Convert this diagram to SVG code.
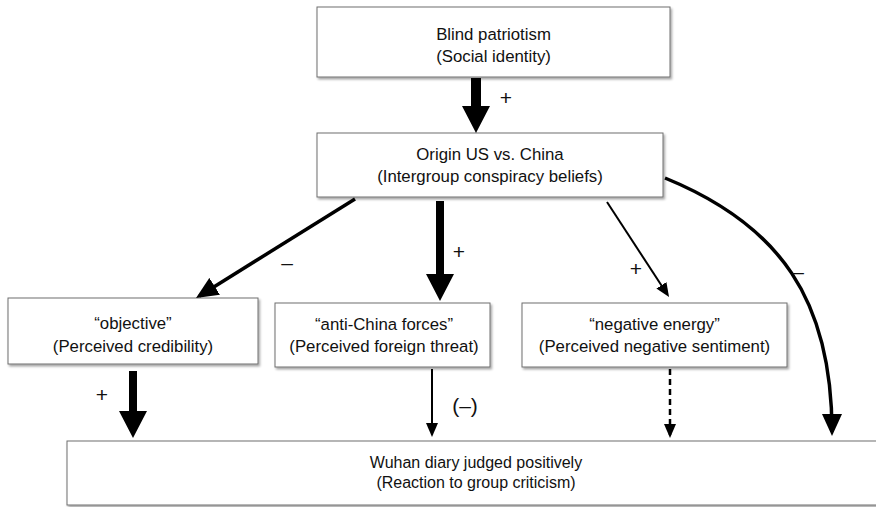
<svg xmlns="http://www.w3.org/2000/svg" width="876" height="507" viewBox="0 0 876 507">
<style>
  .box { fill: #ffffff; stroke: #6e6e6e; stroke-width: 1; filter: url(#shadow); }
  .t { font-family: "Liberation Sans", Arial, sans-serif; font-size: 16.8px; fill: #111; text-anchor: middle; }
  .tb { font-family: "Liberation Sans", Arial, sans-serif; font-size: 16px; fill: #111; text-anchor: middle; }
  .sign { font-family: "Liberation Sans", Arial, sans-serif; font-size: 21px; fill: #111; text-anchor: middle; }
  .ln { fill: none; stroke: #000; }
  .block { fill: #000; }
</style>
<defs>
  <filter id="shadow" x="-5%" y="-10%" width="115%" height="130%">
    <feDropShadow dx="1.5" dy="2" stdDeviation="1.2" flood-color="#000" flood-opacity="0.35"/>
  </filter>
  <marker id="headL" markerUnits="userSpaceOnUse" markerWidth="22" markerHeight="20" refX="18" refY="10" orient="auto">
    <path d="M0,0 L22,10 L0,20 z" fill="#000"/>
  </marker>
  <marker id="headS" markerUnits="userSpaceOnUse" markerWidth="14" markerHeight="12" refX="11" refY="6" orient="auto">
    <path d="M0,0 L14,6 L0,12 z" fill="#000"/>
  </marker>
</defs>

<g id="node-blind">
  <rect class="box" x="317" y="7" width="353" height="70"/>
  <text class="t" x="493.5" y="39.5">Blind patriotism</text>
  <text class="t" x="493.5" y="61.5">(Social identity)</text>
</g>

<g id="node-origin">
  <rect class="box" x="317" y="133" width="346" height="64"/>
  <text class="t" x="490" y="160">Origin US vs. China</text>
  <text class="t" x="490" y="182">(Intergroup conspiracy beliefs)</text>
</g>

<g id="node-objective">
  <rect class="box" x="8" y="298" width="250" height="66"/>
  <text class="t" x="133" y="329">“objective”</text>
  <text class="t" x="133" y="352">(Perceived credibility)</text>
</g>

<g id="node-antichina">
  <rect class="box" x="275" y="303" width="215" height="64"/>
  <text class="t" x="384" y="330">“anti-China forces”</text>
  <text class="t" x="384" y="352">(Perceived foreign threat)</text>
</g>

<g id="node-negative">
  <rect class="box" x="522" y="303" width="265" height="64"/>
  <text class="t" x="654.5" y="330">“negative energy”</text>
  <text class="t" x="654.5" y="352">(Perceived negative sentiment)</text>
</g>

<g id="node-wuhan">
  <rect class="box" x="67" y="441" width="830" height="64"/>
  <text class="tb" x="476" y="468">Wuhan diary judged positively</text>
  <text class="tb" x="476" y="488">(Reaction to group criticism)</text>
</g>

<g id="connectors">
  <!-- Blind patriotism -> Origin (thick) -->
  <polygon class="block" points="471,78 481,78 481,106 490,106 476,133 462,106 471,106"/>
  <!-- Origin -> objective -->
  <line class="ln" x1="355" y1="199" x2="199.4" y2="295.9" stroke-width="3.5" marker-end="url(#headL)"/>
  <!-- Origin -> anti-China (thick) -->
  <polygon class="block" points="436,201 444,201 444,274 454,274 440,301 426,274 436,274"/>
  <!-- Origin -> negative energy -->
  <line class="ln" x1="607" y1="202" x2="667.4" y2="294.5" stroke-width="2" marker-end="url(#headS)"/>
  <!-- Origin -> Wuhan (curve) -->
  <path class="ln" d="M665,178 C780,225 832,300 832,432" stroke-width="3.5" marker-end="url(#headL)"/>
  <!-- objective -> Wuhan (thick) -->
  <polygon class="block" points="129,371 137,371 137,411 147,411 133,438 119,411 129,411"/>
  <!-- anti-China -> Wuhan -->
  <line class="ln" x1="432" y1="369" x2="432" y2="434" stroke-width="2" marker-end="url(#headS)"/>
  <!-- negative energy -> Wuhan (dashed) -->
  <line class="ln" x1="670" y1="369" x2="670" y2="435" stroke-width="2.5" stroke-dasharray="6,4" marker-end="url(#headS)"/>

  <text class="sign" x="506" y="105">+</text>
  <text class="sign" x="287" y="270">–</text>
  <text class="sign" x="459" y="258.5">+</text>
  <text class="sign" x="636" y="275.5">+</text>
  <text class="sign" x="798" y="278.5">–</text>
  <text class="sign" x="102" y="402">+</text>
  <text class="sign" x="465" y="413">(–)</text>
</g>
</svg>
